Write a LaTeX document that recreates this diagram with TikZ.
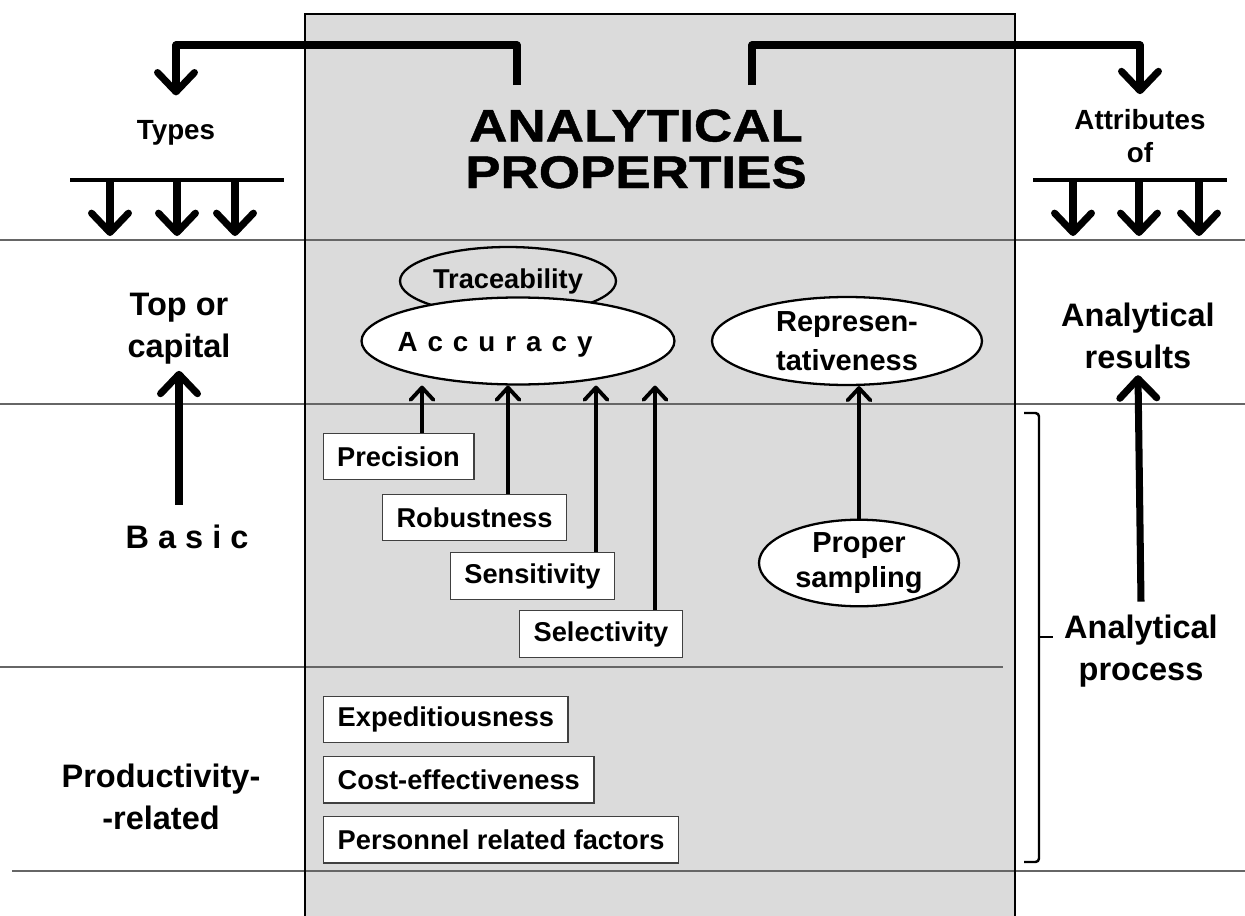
\documentclass[tikz,border=0pt]{standalone}
\usepackage{fontspec}
\setmainfont{Liberation Sans}
\newfontfamily\blackfont[FakeBold=1,FakeStretch=1.16]{Liberation Sans Bold}
\usetikzlibrary{positioning, calc}
\usetikzlibrary{shapes.geometric}
\usetikzlibrary{arrows.meta}
\tikzset{
	attr/.style={draw=black!75, rectangle, line width=0.8pt, fill=white, inner xsep=0.28cm, minimum height=0.93cm, font=\fontsize{15.5}{18}\selectfont\bfseries},
	oval/.style={draw, ellipse, line width=1.3pt, fill=white, inner sep=0pt, align=center},
	side/.style={align=center, font=\fontsize{18.5}{24}\selectfont\bfseries},
	head/.style={align=center, font=\fontsize{15.8}{18.7}\selectfont\bfseries},
	divider/.style={draw=black!60, line width=0.8pt},
	% thick chevron arrows
	bigarrow/.style={line width=4pt, line join=round, -{Straight Barb[length=11pt, width=21pt, round]}},
	smallarrow/.style={line width=2.2pt, -{Straight Barb[length=7pt, width=13pt, round]}}
}
\begin{document}
\begin{tikzpicture}[x=0.02cm, y=-0.02cm]
	\useasboundingbox (0,0) rectangle (1245,916);
	\fill[black!14] (305,14) rectangle (1015,916);
	
	\draw[divider] (0,240) -- (1245,240);
	\draw[divider] (0,404) -- (1245,404);
	\draw[divider] (0,667) -- (1003,667);
	\draw[divider] (12,871) -- (1245,871);
	\draw[line width=1.6pt] (305,916) -- (305,14) -- (1015,14) -- (1015,916);
	
	\node (title) [font=\fontsize{26}{26.5}\blackfont, align=center] at (636,149) {ANALYTICAL\\PROPERTIES};
	\coordinate (lstart) at (517,85);
	\coordinate (rstart) at (752,85);
	
	\node (types) [head] at (176,133) {Types};
	\node (attrib) [head] at (1140,136) {Attributes\\of};
	\node (topcap) [side] at (179,329) {Top or\\capital};
	\node (basic) [side] at (187,537) {B a s i c};
	\node (prodrel) [side] at (161,797) {Productivity-\\-related};
	\node (results) [side] at (1138,336) {Analytical\\results};
	\node (process) [side] at (1141,651) {Analytical\\process};
	
	\node (trace) [oval, fill=black!14, minimum width=4.32cm, minimum height=1.36cm, font=\fontsize{15.5}{18}\selectfont\bfseries] at (508,281) {Traceability};
	\node (acc) [oval, minimum width=6.26cm, minimum height=1.74cm] at (518,341) {};
	\node (acctext) [font=\fontsize{15.8}{18}\selectfont\bfseries] at (495,345) {\spaceskip=0.36em A c c u r a c y};
	\node (repr) [oval, minimum width=5.4cm, minimum height=1.76cm, font=\fontsize{16.5}{22}\selectfont\bfseries] at (847,341) {Represen-\\tativeness};
	\node (prop) [oval, minimum width=4cm, minimum height=1.7cm, font=\fontsize{16.5}{20}\selectfont\bfseries] at (859,563) {Proper\\sampling};
	
	\node (prec) [attr] at (398.5,456.5) {Precision};
	\node (rob) [attr] at (474.5,517.5) {Robustness};
	\node (sens) [attr] at (532.5,576) {Sensitivity};
	\node (sel) [attr] at (601,634) {Selectivity};
	\node (exped) [attr, anchor=west] at (323,719.5) {Expeditiousness};
	\node (cost) [attr, below=0.25cm of exped.south west, anchor=north west] {Cost-effectiveness};
	\node (pers) [attr, below=0.24cm of cost.south west, anchor=north west] {Personnel related factors};
	
	% bracket for the analytical process
	\draw[line width=1.4pt, rounded corners=2pt] (1024,413) -- (1039,413) -- (1039,862) -- (1024,862);
	\draw[line width=1.4pt] (1039,637) -- (1053,637);
	
	% bars with three arrows
	\draw[line width=1.9pt] (70,180) -- (284,180);
	\draw[line width=1.9pt] (1033,180) -- (1227,180);
	\begin{scope}[bigarrow]
		\draw (110,180) -- (110,236);
		\draw (177,180) -- (177,236);
		\draw (235,180) -- (235,236);
		\draw (1073,180) -- (1073,236);
		\draw (1139,180) -- (1139,236);
		\draw (1199,180) -- (1199,236);
	\end{scope}
	
	\begin{scope}[bigarrow]
		\draw (lstart) -- ++(0,-40) -| ($(types.north)+(0,-19)$);
		\draw (rstart) -- ++(0,-40) -| ($(attrib.north)+(0,-9)$);
		\draw ([yshift=0.28cm]basic.north -| topcap.south) -- (topcap.south);
		\draw ([yshift=0.14cm]process.north) -- (results.south);
	\end{scope}
	
	\begin{scope}[smallarrow]
		\draw ([xshift=0.47cm]prec.north) -- ([xshift=0.47cm]prec.north |- acc.south);
		\draw ([xshift=0.67cm]rob.north) -- ([xshift=0.67cm]rob.north |- acc.south);
		\draw ([xshift=1.27cm]sens.north) -- ([xshift=1.27cm]sens.north |- acc.south);
		\draw ([xshift=1.08cm]sel.north) -- ([xshift=1.08cm]sel.north |- acc.south);
		\draw (prop.north) -- (prop.north |- repr.south);
	\end{scope}
\end{tikzpicture}
\end{document}
